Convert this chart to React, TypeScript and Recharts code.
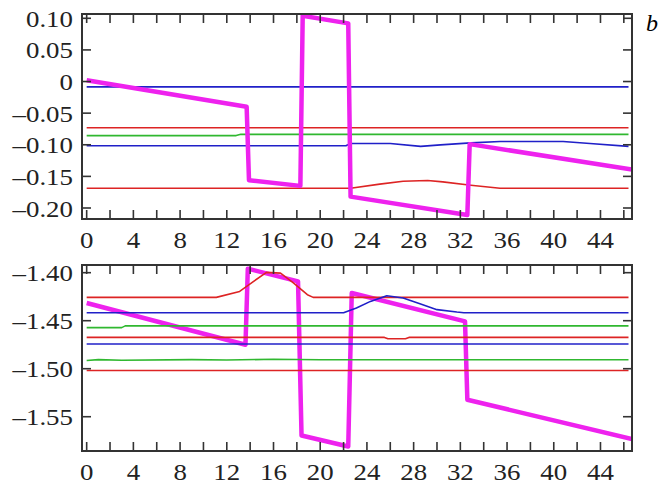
import React from "react";
import { LineChart, Line, XAxis, YAxis } from "recharts";

type Pt = [number, number];

// x axis (shared by both panels)
const xDomain = [-0.4, 46.7];
const xLabelTicks = [0, 4, 8, 12, 16, 20, 24, 28, 32, 36, 40, 44];
const xMinorTicks = [0, 2, 4, 6, 8, 10, 12, 14, 16, 18, 20, 22, 24, 26, 28, 30, 32, 34, 36, 38, 40, 42, 44, 46];

// upper panel
const topDomain = [-0.2174, 0.1068];
const topYTicks = [0.1, 0.05, 0, -0.05, -0.1, -0.15, -0.2];
const topMagenta: Pt[] = [[0, 0.002], [13.7, -0.04], [13.9, -0.156], [18.3, -0.165], [18.5, 0.104], [22.4, 0.092], [22.6, -0.182], [32.6, -0.211], [32.8, -0.099], [46.7, -0.139]];
const topBlue1: Pt[] = [[0, -0.0084], [46.4, -0.0084]];
const topRed1: Pt[] = [[0, -0.073], [46.4, -0.073]];
const topGreen: Pt[] = [[0, -0.0855], [12.8, -0.0855], [13.2, -0.0835], [46.4, -0.0835]];
const topBlue2: Pt[] = [[0, -0.1016], [22.2, -0.1016], [22.6, -0.098], [26, -0.098], [28.6, -0.1026], [30.3, -0.1001], [32.9, -0.097], [35.4, -0.0948], [40.8, -0.0948], [43.1, -0.098], [46.4, -0.1026]];
const topRed2: Pt[] = [[0, -0.1687], [22.6, -0.1687], [25.1, -0.1623], [27.1, -0.1576], [29.2, -0.1566], [30.5, -0.1587], [32.9, -0.1639], [35.4, -0.1687], [46.4, -0.1687]];

// lower panel
const botDomain = [-1.5857, -1.392];
const botYTicks = [-1.4, -1.45, -1.5, -1.55];
const botMagenta: Pt[] = [[0, -1.4316], [13.6, -1.475], [13.8, -1.3958], [18.1, -1.409], [18.4, -1.5695], [22.4, -1.581], [22.7, -1.4211], [32.4, -1.4507], [32.6, -1.5323], [46.7, -1.5733]];
const botRed1: Pt[] = [[0, -1.4257], [11.1, -1.4257], [13.1, -1.4195], [14.3, -1.409], [15.4, -1.3997], [16.6, -1.4005], [17.7, -1.4107], [18.9, -1.4229], [19.4, -1.4257], [46.4, -1.4257]];
const botBlue1: Pt[] = [[0, -1.4417], [22, -1.4417], [23.1, -1.4368], [24.3, -1.4299], [25.7, -1.424], [27.1, -1.4264], [28.6, -1.4326], [30, -1.4385], [31.7, -1.441], [32.3, -1.4417], [46.4, -1.4417]];
const botGreen1: Pt[] = [[0, -1.4572], [3, -1.4572], [3.3, -1.4554], [46.4, -1.4554]];
const botRed2: Pt[] = [[0, -1.4674], [25.5, -1.4674], [25.8, -1.4688], [27.3, -1.4688], [27.6, -1.4674], [46.4, -1.4674]];
const botBlue2: Pt[] = [[0, -1.4743], [46.4, -1.4743]];
const botGreen2: Pt[] = [[0, -1.4915], [1, -1.4905], [3, -1.4912], [9, -1.4905], [12, -1.4909], [16, -1.4902], [20, -1.4906], [46.4, -1.4906]];
const botRed3: Pt[] = [[0, -1.5018], [46.4, -1.5018]];

const RED = "#dd2424";
const BLUE = "#2020c8";
const GREEN = "#30b830";
const MAGENTA = "#ee22ee";
const FRAME = "#333";
const FONT = "Liberation Serif, Times New Roman, serif";

const fmt = (v: number) => (v === 0 ? "0" : (v < 0 ? "\u2013" : "") + Math.abs(v).toFixed(2));
const toRows = (pts: Pt[]) => pts.map(([x, y]) => ({ x, y }));
const blank = () => "";

// the figure's lettering is a little wider than plain Times
function StretchTick(props: any) {
  const { x, y, payload, textAnchor, vertical } = props;
  const label = vertical ? fmt(payload.value) : String(payload.value);
  return (
    <text transform={`translate(${x},${y}) scale(1.12,1)`} textAnchor={textAnchor}
      dy={vertical ? "0.355em" : "0.71em"} fontSize={24} fontFamily={FONT} fill="#222">
      {label}
    </text>
  );
}

type Series = { name: string; pts: Pt[]; color: string; width: number };

function Panel({ top, height, marginTop, plotHeight, yDomain, yTicks, series }: {
  top: number; height: number; marginTop: number; plotHeight: number; yDomain: number[]; yTicks: number[]; series: Series[];
}) {
  const frame = { stroke: FRAME, strokeWidth: 2, strokeLinecap: "square" as const };
  const tickLine = { stroke: FRAME, strokeWidth: 1.6 };
  return (
    <div style={{ position: "absolute", left: 0, top, width: 672, height }}>
      <LineChart width={672} height={height} margin={{ top: marginTop, right: 40, left: 0, bottom: 0 }}>
        <XAxis xAxisId="lab" type="number" dataKey="x" domain={xDomain} allowDataOverflow ticks={xLabelTicks}
          interval={0} tickLine={false} axisLine={false} tickSize={0} tickMargin={12} height={height - marginTop - plotHeight}
          tick={(p: any) => <StretchTick {...p} textAnchor="middle" />} />
        <XAxis xAxisId="bt" type="number" dataKey="x" domain={xDomain} allowDataOverflow ticks={xMinorTicks}
          interval={0} mirror tickFormatter={blank} tickSize={9} tickLine={tickLine} axisLine={frame} height={1} />
        <XAxis xAxisId="tp" orientation="top" type="number" dataKey="x" domain={xDomain} allowDataOverflow ticks={xMinorTicks}
          interval={0} mirror tickFormatter={blank} tickSize={9} tickLine={tickLine} axisLine={frame} height={1} />
        <YAxis yAxisId="lab" type="number" domain={yDomain} allowDataOverflow ticks={yTicks} interval={0}
          tickLine={false} axisLine={false} tickSize={0} tickMargin={9} width={82}
          tick={(p: any) => <StretchTick {...p} textAnchor="end" vertical />} />
        <YAxis yAxisId="lf" type="number" domain={yDomain} allowDataOverflow ticks={yTicks} interval={0}
          mirror tickFormatter={blank} tickSize={9} tickLine={tickLine} axisLine={frame} width={1} />
        <YAxis yAxisId="rt" orientation="right" type="number" domain={yDomain} allowDataOverflow ticks={yTicks} interval={0}
          mirror tickFormatter={blank} tickSize={9} tickLine={tickLine} axisLine={frame} width={1} />
        {series.map((s) => (
          <Line key={s.name} xAxisId="lab" yAxisId="lab" data={toRows(s.pts)} dataKey="y" type="linear"
            stroke={s.color} strokeWidth={s.width} dot={false} activeDot={false} isAnimationActive={false} strokeLinejoin="round" />
        ))}
      </LineChart>
    </div>
  );
}

const topSeries: Series[] = [
  { name: "b1", pts: topBlue1, color: BLUE, width: 1.6 },
  { name: "r1", pts: topRed1, color: RED, width: 1.6 },
  { name: "g1", pts: topGreen, color: GREEN, width: 1.6 },
  { name: "b2", pts: topBlue2, color: BLUE, width: 1.6 },
  { name: "r2", pts: topRed2, color: RED, width: 1.6 },
  { name: "m", pts: topMagenta, color: MAGENTA, width: 4.5 },
];

const botSeries: Series[] = [
  { name: "m", pts: botMagenta, color: MAGENTA, width: 4.5 },
  { name: "r1", pts: botRed1, color: RED, width: 1.6 },
  { name: "b1", pts: botBlue1, color: BLUE, width: 1.6 },
  { name: "g1", pts: botGreen1, color: GREEN, width: 1.6 },
  { name: "r2", pts: botRed2, color: RED, width: 1.6 },
  { name: "b2", pts: botBlue2, color: BLUE, width: 1.6 },
  { name: "g2", pts: botGreen2, color: GREEN, width: 1.6 },
  { name: "r3", pts: botRed3, color: RED, width: 1.6 },
];

export default function App() {
  return (
    <div style={{ position: "absolute", left: 0, top: 0, width: 672, height: 486, background: "#fff" }}>
      <Panel top={0} height={258} marginTop={14} plotHeight={205} yDomain={topDomain} yTicks={topYTicks} series={topSeries} />
      <Panel top={250} height={236} marginTop={15} plotHeight={186} yDomain={botDomain} yTicks={botYTicks} series={botSeries} />
      <div style={{ position: "absolute", left: 646, top: 10.6, fontFamily: FONT, fontStyle: "italic", fontSize: 24, lineHeight: "24px" }}>
        b
      </div>
    </div>
  );
}
